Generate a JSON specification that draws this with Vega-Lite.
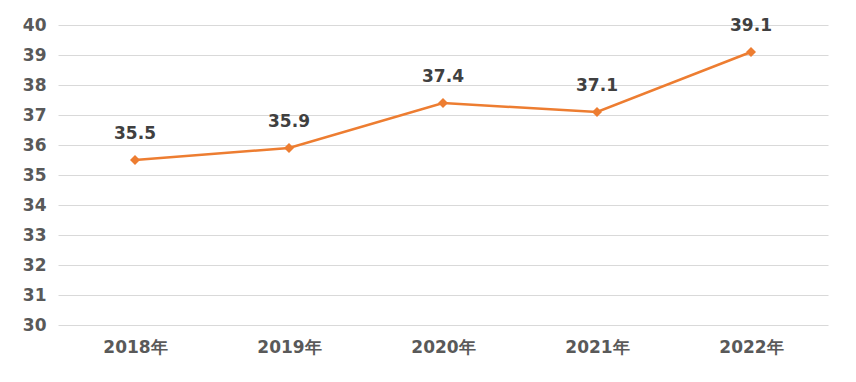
{
  "$schema": "https://vega.github.io/schema/vega-lite/v6.json",
  "width": 770,
  "height": 300,
  "autosize": {"type": "none"},
  "padding": {"left": 58, "top": 25, "right": 28, "bottom": 57},
  "background": "white",
  "data": {"values": [
    {"year": "2018年", "value": 35.5},
    {"year": "2019年", "value": 35.9},
    {"year": "2020年", "value": 37.4},
    {"year": "2021年", "value": 37.1},
    {"year": "2022年", "value": 39.1}
  ]},
  "encoding": {
    "x": {"field": "year", "type": "ordinal", "sort": null,
      "scale": {"type": "point", "padding": 0.5},
      "axis": {"title": null, "domain": false, "ticks": false, "grid": false, "labelAngle": 0,
        "labelFont": "DejaVu Sans", "labelFontWeight": "bold", "labelFontSize": 17, "labelColor": "#595959", "labelPadding": 14}},
    "y": {"field": "value", "type": "quantitative",
      "scale": {"domain": [30, 40], "nice": false, "zero": false},
      "axis": {"title": null, "domain": false, "ticks": false, "values": [30,31,32,33,34,35,36,37,38,39,40],
        "labelOverlap": false, "gridColor": "#d9d9d9", "gridWidth": 1,
        "labelFont": "DejaVu Sans", "labelFontWeight": "bold", "labelFontSize": 17, "labelColor": "#595959", "labelPadding": 12}}
  },
  "layer": [
    {"mark": {"type": "line", "color": "#ED7D31", "strokeWidth": 2.5}},
    {"mark": {"type": "point", "shape": "diamond", "filled": true, "color": "#ED7D31", "size": 100, "opacity": 1}},
    {"mark": {"type": "text", "font": "DejaVu Sans", "fontWeight": "bold", "fontSize": 17, "color": "#404040", "baseline": "bottom", "dy": -17},
      "encoding": {"text": {"field": "value", "type": "quantitative", "format": ".1f"}}}
  ],
  "config": {"view": {"stroke": null}}
}
